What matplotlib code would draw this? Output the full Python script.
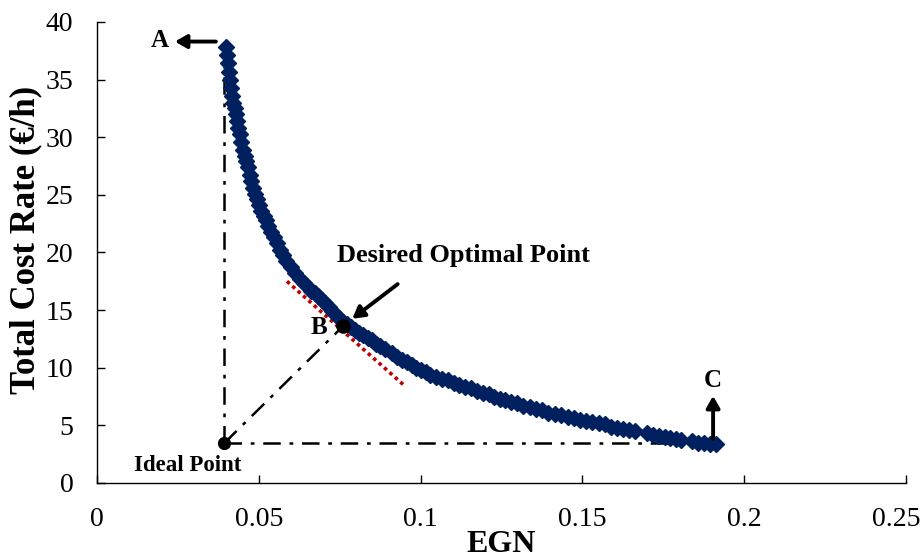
import matplotlib
matplotlib.use("Agg")
import matplotlib.pyplot as plt
import matplotlib.transforms as mtransforms

plt.rcParams['font.family'] = ['Liberation Serif', 'DejaVu Serif']

egn = [0.0400, 0.0403, 0.0406, 0.0409, 0.0412, 0.0415, 0.0418, 0.0421,
       0.0425, 0.0429, 0.0433, 0.0437, 0.0441, 0.0446, 0.0451,
       0.0456, 0.0461, 0.0466, 0.0472, 0.0477, 0.0483, 0.0488, 0.0494,
       0.0501, 0.0508, 0.0515, 0.0522, 0.0530, 0.0538, 0.0546, 0.0556,
       0.0566, 0.0575, 0.0584, 0.0601, 0.0613, 0.0627, 0.0639, 0.0651,
       0.0662, 0.0673, 0.0683, 0.0694, 0.0705, 0.0716, 0.0727, 0.0738,
       0.0749, 0.0760, 0.0772, 0.0784, 0.0797, 0.0810, 0.0823, 0.0836,
       0.0850, 0.0863, 0.0876, 0.0890, 0.0912, 0.0927, 0.0942, 0.0957,
       0.0972, 0.0987, 0.1002, 0.1016, 0.1029, 0.1048, 0.1066, 0.1084,
       0.1102, 0.1120, 0.1138, 0.1156, 0.1174, 0.1192, 0.1210, 0.1228,
       0.1245, 0.1261, 0.1280, 0.1299, 0.1318, 0.1337, 0.1356, 0.1375,
       0.1395, 0.1415, 0.1435, 0.1455, 0.1474, 0.1493, 0.1512, 0.1531,
       0.1550, 0.1569, 0.1588, 0.1607, 0.1626, 0.1645, 0.1664, 0.1700,
       0.1718, 0.1736, 0.1754, 0.1772, 0.1790, 0.1806, 0.1840, 0.1858,
       0.1876, 0.1894, 0.1912]
cost = [37.8, 37.1, 36.4, 35.7, 35.0, 34.3, 33.6, 33.0,
        32.5, 32.0, 31.4, 30.8, 30.3, 29.6, 28.9,
        28.4, 27.9, 27.4, 26.7, 26.2, 25.6, 25.1, 24.6,
        24.1, 23.6, 23.2, 22.8, 22.3, 21.8, 21.3, 20.8,
        20.2, 19.8, 19.3, 18.7, 18.2, 17.7, 17.35, 17.0,
        16.7, 16.45, 16.2, 15.9, 15.6, 15.3, 14.9, 14.6,
        14.3, 14.0, 13.8, 13.55, 13.3, 13.05, 12.85, 12.6,
        12.4, 12.1, 11.85, 11.6, 11.25, 10.95, 10.7, 10.5,
        10.2, 10.0, 9.8, 9.6, 9.4, 9.2, 9.0, 8.9,
        8.7, 8.5, 8.3, 8.2, 8.0, 7.8, 7.7, 7.5,
        7.3, 7.2, 7.0, 6.9, 6.7, 6.6, 6.4, 6.3,
        6.1, 6.0, 5.9, 5.7, 5.6, 5.5, 5.4, 5.3,
        5.2, 5.1, 4.9, 4.8, 4.7, 4.6, 4.5, 4.3,
        4.2, 4.1, 4.0, 3.9, 3.8, 3.7, 3.6, 3.5,
        3.5, 3.4, 3.4]

ideal_pt = (0.0393, 3.45)
b_pt = (0.0760, 13.6)
a_top = 37.8
c_x = 0.1904
tangent_x = [0.0587, 0.0952]
tangent_y = [17.5, 8.4]

xticks = [0, 0.05, 0.1, 0.15, 0.2, 0.25]
xticklabels = ['0', '0.05', '0.1', '0.15', '0.2', '0.25']
yticks = [0, 5, 10, 15, 20, 25, 30, 35, 40]

fig = plt.figure(figsize=(9.22, 5.59), dpi=100)
ax = fig.add_axes([0.1052, 0.136, 0.8774, 0.8247])

dash = (0, (7, 3.5, 1.5, 3.5))
ax.plot([ideal_pt[0], ideal_pt[0]], [ideal_pt[1], a_top], color='black',
        lw=1.8, linestyle=dash, zorder=1)
ax.plot([ideal_pt[0], c_x], [ideal_pt[1], ideal_pt[1]], color='black',
        lw=1.8, linestyle=dash, zorder=1)
ax.plot([ideal_pt[0], b_pt[0]], [ideal_pt[1], b_pt[1]], color='black',
        lw=1.8, linestyle=dash, zorder=1)

ax.plot(egn, cost, linestyle='none', marker='D', markersize=8.5,
        color='#002060', markeredgecolor='#002060', zorder=3)

ax.plot(tangent_x, tangent_y, color='#C00000', lw=2.6,
        linestyle=(0, (1, 1)), zorder=2)

ax.plot([ideal_pt[0]], [ideal_pt[1]], 'o', color='black', markersize=8.5, zorder=5)
ax.plot([b_pt[0]], [b_pt[1]], 'o', color='black', markersize=9.5, zorder=5)

arrow_kw = dict(arrowstyle='-|>,head_width=0.4,head_length=0.7', color='black', lw=2.8)
ax.annotate('', xy=(0.0232, 38.3), xytext=(0.0376, 38.3), arrowprops=arrow_kw)
ax.annotate('', xy=(c_x, 7.8), xytext=(c_x, 3.6), arrowprops=arrow_kw)
ax.annotate('', xy=(0.0782, 14.1), xytext=(0.0936, 17.4), arrowprops=arrow_kw)

tk = dict(fontweight='bold', ha='center', va='center')
ax.text(0.0195, 38.4, 'A', fontsize=18, **tk)
ax.text(c_x, 8.9, 'C', fontsize=18, **tk)
ax.text(0.0685, 13.5, 'B', fontsize=18, **tk)
ax.text(0.1131, 19.7, 'Desired Optimal Point', fontsize=19, **tk)
ax.text(0.0281, 1.5, 'Ideal Point', fontsize=16.5, **tk)

ax.set_xlim(0, 0.25)
ax.set_ylim(0, 40)
ax.set_xticks(xticks)
ax.set_xticklabels(xticklabels)
ax.set_yticks(yticks)
ax.tick_params(direction='in', length=6, width=1, labelsize=20)
ax.tick_params(axis='y', pad=17)
ax.tick_params(axis='x', pad=17)
last = ax.get_xticklabels()[-1]
last.set_transform(last.get_transform() +
                   mtransforms.ScaledTranslation(-10 / 100, 0, fig.dpi_scale_trans))
for s in ['top', 'right']:
    ax.spines[s].set_visible(False)
for s in ['left', 'bottom']:
    ax.spines[s].set_linewidth(1)

ax.set_xlabel('EGN', fontsize=23, fontweight='bold', labelpad=-1)
ax.set_ylabel('Total Cost Rate (€/h)', fontsize=25, fontweight='bold')
ax.yaxis.set_label_coords(-0.067, 0.527)

fig.savefig('out.png', dpi=100)
